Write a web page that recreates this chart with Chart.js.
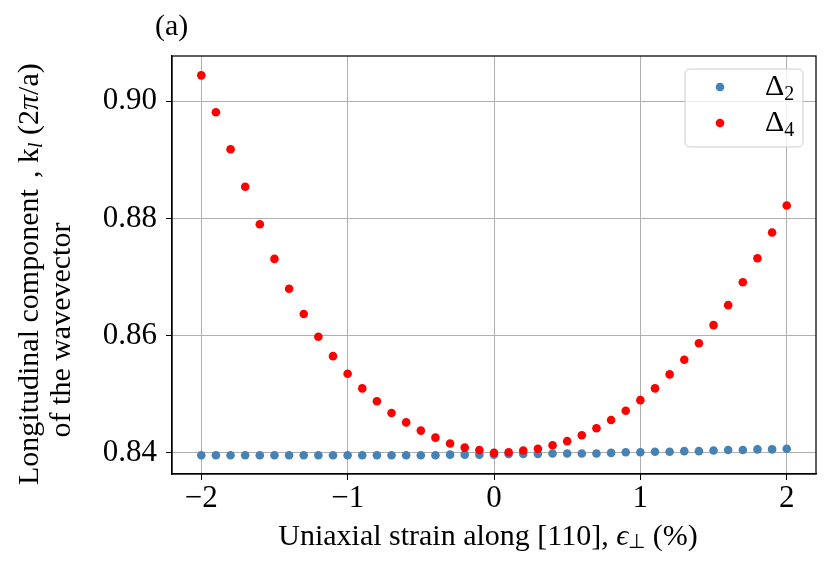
<!DOCTYPE html>
<html>
<head>
<meta charset="utf-8">
<script src="https://cdn.jsdelivr.net/npm/chart.js@4"></script>
<style>
  html, body { margin: 0; padding: 0; background: #fff; }
  #wrap { width: 830px; height: 565px; }
</style>
</head>
<body>
<div id="wrap"><canvas id="strain"></canvas></div>
<script>
// strain values (%)
var strain = [-2.0, -1.9, -1.8, -1.7, -1.6, -1.5, -1.4, -1.3, -1.2, -1.1, -1.0,
              -0.9, -0.8, -0.7, -0.6, -0.5, -0.4, -0.3, -0.2, -0.1, 0.0,
              0.1, 0.2, 0.3, 0.4, 0.5, 0.6, 0.7, 0.8, 0.9, 1.0,
              1.1, 1.2, 1.3, 1.4, 1.5, 1.6, 1.7, 1.8, 1.9, 2.0];
var delta2 = [0.8396, 0.8396, 0.8396, 0.8396, 0.8396, 0.8396, 0.8396, 0.8396, 0.8396, 0.8396, 0.8396,
              0.8396, 0.8396, 0.8396, 0.8396, 0.8396, 0.8396, 0.8397, 0.8397, 0.8397, 0.8397,
              0.8398, 0.8398, 0.8398, 0.8399, 0.8399, 0.8399, 0.8399, 0.8400, 0.8401, 0.8401,
              0.8402, 0.8402, 0.8403, 0.8403, 0.8404, 0.8405, 0.8405, 0.8406, 0.8406, 0.8407];
var delta4 = [0.9044, 0.8981, 0.8918, 0.8854, 0.8790, 0.8731, 0.8680, 0.8637, 0.8598, 0.8565, 0.8535,
              0.8510, 0.8488, 0.8468, 0.8452, 0.8438, 0.8426, 0.8416, 0.8409, 0.8405, 0.8400,
              0.8401, 0.8404, 0.8407, 0.8413, 0.8420, 0.8430, 0.8442, 0.8456, 0.8472, 0.8490,
              0.8510, 0.8534, 0.8559, 0.8587, 0.8618, 0.8652, 0.8691, 0.8732, 0.8776, 0.8822];
var xTicks = [-2, -1, 0, 1, 2];
var yTicks = [0.84, 0.86, 0.88, 0.90];

function pts(ys) {
  return strain.map(function (x, i) { return { x: x, y: ys[i] }; });
}

var serif = "'Liberation Serif', 'Times New Roman', serif";
Chart.defaults.font.family = serif;
Chart.defaults.color = '#000';

// draws a run of [text, font, dy] pieces left to right, returns the end
function run(ctx, parts, x, y) {
  parts.forEach(function (p) {
    ctx.font = p[1];
    ctx.fillText(p[0], x, y + (p[2] || 0));
    x += ctx.measureText(p[0]).width;
  });
  return x;
}
function runWidth(ctx, parts) {
  var w = 0;
  parts.forEach(function (p) { ctx.font = p[1]; w += ctx.measureText(p[0]).width; });
  return w;
}

// frame, axis titles, panel letter and legend
var extras = {
  id: 'extras',
  afterDatasetsDraw: function (chart) {
    var ctx = chart.ctx, a = chart.chartArea;
    ctx.save();
    ctx.strokeStyle = '#000';
    ctx.lineWidth = 1.25;
    ctx.strokeRect(a.left, a.top, a.right - a.left, a.bottom - a.top);
    ctx.restore();
  },
  afterDraw: function (chart) {
    var ctx = chart.ctx;
    var f30 = '30px ' + serif, i30 = 'italic 30px ' + serif;
    ctx.save();
    ctx.fillStyle = '#000';
    ctx.textBaseline = 'middle';
    ctx.textAlign = 'left';

    // panel label
    ctx.font = f30;
    ctx.fillText('(a)', 155, 27);

    // x axis title
    var xt = [['Uniaxial strain along [110], ', f30], ['\u03f5', i30], ['\u22a5', '20px ' + serif, 6],
              [' (%)', f30]];
    run(ctx, xt, 488 - runWidth(ctx, xt) / 2, 537);

    // y axis title (two lines, rotated)
    ctx.save();
    ctx.translate(30, 485);
    ctx.rotate(-Math.PI / 2);
    ctx.font = f30;
    ctx.fillText('Longitudinal component', 0, 0);
    run(ctx, [[', k', f30], ['l', 'italic 20px ' + serif, 7], [' (2', f30], ['\u03c0', i30], ['/a)', f30]],
        307, 0);
    ctx.restore();

    ctx.save();
    ctx.translate(62, 330);
    ctx.rotate(-Math.PI / 2);
    ctx.textAlign = 'center';
    ctx.font = f30;
    ctx.fillText('of the wavevector', 0, 0);
    ctx.restore();

    // legend box
    var bx = 685, by = 69, bw = 118, bh = 78, r = 5;
    ctx.beginPath();
    ctx.moveTo(bx + r, by);
    ctx.arcTo(bx + bw, by, bx + bw, by + bh, r);
    ctx.arcTo(bx + bw, by + bh, bx, by + bh, r);
    ctx.arcTo(bx, by + bh, bx, by, r);
    ctx.arcTo(bx, by, bx + bw, by, r);
    ctx.closePath();
    ctx.fillStyle = 'rgba(255,255,255,0.8)';
    ctx.fill();
    ctx.strokeStyle = '#cccccc';
    ctx.lineWidth = 1;
    ctx.stroke();

    var rows = [[87, '2'], [123, '4']];
    chart.data.datasets.forEach(function (ds, i) {
      var y = rows[i][0];
      ctx.beginPath();
      ctx.arc(720, y, 4.3, 0, Math.PI * 2);
      ctx.fillStyle = ds.pointBackgroundColor;
      ctx.fill();
      ctx.fillStyle = '#000';
      run(ctx, [['\u0394', '30px ' + serif], [rows[i][1], '20px ' + serif, 8]], 765, y);
    });
    ctx.restore();
  }
};

new Chart(document.getElementById('strain').getContext('2d'), {
  type: 'scatter',
  data: {
    datasets: [{
      label: '\u0394\u2082',
      data: pts(delta2),
      pointBackgroundColor: '#4682b4',
      backgroundColor: '#4682b4',
      pointBorderWidth: 0,
      pointRadius: 4.3,
      order: 1
    }, {
      label: '\u0394\u2084',
      data: pts(delta4),
      pointBackgroundColor: '#ff0000',
      backgroundColor: '#ff0000',
      pointBorderWidth: 0,
      pointRadius: 4.3,
      order: 0
    }]
  },
  options: {
    responsive: true,
    maintainAspectRatio: false,
    animation: false,
    devicePixelRatio: 1,
    layout: { padding: { top: 56, right: 14, left: 0, bottom: 0 } },
    plugins: { legend: { display: false }, tooltip: { enabled: false } },
    scales: {
      x: {
        type: 'linear',
        min: -2.2,
        max: 2.2,
        afterBuildTicks: function (scale) {
          scale.ticks = xTicks.map(function (v) { return { value: v }; });
        },
        afterFit: function (scale) { scale.height = 91; },
        ticks: {
          font: { size: 31 },
          padding: 0,
          maxRotation: 0,
          callback: function (v) { return v < 0 ? '\u2212' + Math.abs(v) : String(v); }
        },
        grid: { color: '#b0b0b0', lineWidth: 1, tickColor: '#000', tickLength: 6 },
        border: { color: '#000', width: 1.25 }
      },
      y: {
        type: 'linear',
        min: 0.8364,
        max: 0.9077,
        afterBuildTicks: function (scale) {
          scale.ticks = yTicks.map(function (v) { return { value: v }; });
        },
        afterFit: function (scale) { scale.width = 172; },
        ticks: {
          font: { size: 31 },
          padding: 9,
          callback: function (v) { return v.toFixed(2); }
        },
        grid: { color: '#b0b0b0', lineWidth: 1, tickColor: '#000', tickLength: 6 },
        border: { color: '#000', width: 1.25 }
      }
    }
  },
  plugins: [extras]
});
</script>
</body>
</html>
